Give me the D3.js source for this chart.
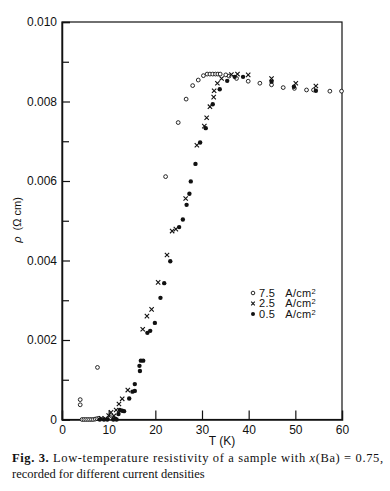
<!DOCTYPE html>
<html>
<head>
<meta charset="utf-8">
<script src="https://cdn.jsdelivr.net/npm/d3@7"></script>
<style>
  body { margin: 0; background: #fff; }
  svg { display: block; }
</style>
</head>
<body>
<div id="chart"></div>
<script>
// values
const T_75 = [3.9, 3.9, 4.3, 4.7, 5.1, 5.5, 5.9, 6.3, 6.7, 7.1, 7.5, 7.9, 7.6, 10.4,
              22.2, 24.9, 26.6, 28.0, 29.2, 30.3, 31.1, 31.7, 32.3, 32.9, 33.4, 33.9,
              35.1, 35.8, 37.4, 39.9, 42.4, 44.9, 47.4, 49.8, 52.4, 53.9, 57.4, 59.9];
const RHO_75 = [0.00037, 0.00050, 0, 0, 0, 0, 0, 0, 0, 0.00001, 0.00002, 0.00003, 0.00131, 0.00005,
                0.00611, 0.00747, 0.00806, 0.00840, 0.00854, 0.00865, 0.00869, 0.00869, 0.00869, 0.00869, 0.00869, 0.00869,
                0.00867, 0.00864, 0.00858, 0.00851, 0.00846, 0.00842, 0.00835, 0.00833, 0.00829, 0.00829, 0.00826, 0.00826];

const T_25 = [8.4, 9.3, 10.0, 10.5, 11.1, 11.6, 12.2, 12.9, 14.1, 17.3, 18.2, 19.2, 20.6, 22.5,
              23.6, 24.4, 26.5, 28.9, 30.5, 31.0, 31.7, 32.5, 32.6, 33.3, 34.2, 36.3,
              37.6, 39.9, 44.9, 50.1, 54.4];
const RHO_25 = [0.00003, 0.00002, 0.00010, 0.00018, 0.00009, 0.00024, 0.00039, 0.00052, 0.00074, 0.00227, 0.00260, 0.00277, 0.00345, 0.00414,
                0.00474, 0.00479, 0.00556, 0.00690, 0.00738, 0.00759, 0.00787, 0.00811, 0.00827, 0.00846, 0.00858, 0.00868,
                0.00869, 0.00867, 0.00858, 0.00846, 0.00839];

const T_05 = [8.1, 9.0, 9.7, 11.0, 11.4, 11.7, 12.1, 12.4, 12.9, 13.3, 14.4, 15.1, 15.6, 15.6,
              16.6, 16.7, 16.9, 17.4, 18.3, 18.9, 19.9, 21.1, 21.9, 23.2, 25.1, 25.9,
              26.7, 27.3, 27.6, 28.6, 29.6, 30.8, 32.3, 33.8, 35.4, 37.0, 38.8, 44.9, 49.7, 54.4];
const RHO_05 = [0, 0, 0, 0, 0.00002, 0, 0.00014, 0.00024, 0.00022, 0.00021, 0.00053, 0.00070, 0.00072, 0.00089,
                0.00135, 0.00122, 0.00148, 0.00148, 0.00218, 0.00223, 0.00243, 0.00306, 0.00343, 0.00398, 0.00484, 0.00503,
                0.00540, 0.00568, 0.00599, 0.00643, 0.00697, 0.00733, 0.00793, 0.00831, 0.00852, 0.00862, 0.00862, 0.00850, 0.00837, 0.00827];

const X_TICKS = [0, 10, 20, 30, 40, 50, 60];
const Y_TICKS = [0, 0.002, 0.004, 0.006, 0.008, 0.010];
const Y_MINOR = [0.001, 0.003, 0.005, 0.007, 0.009];
const LEGEND_LABELS = ["7.5", "2.5", "0.5"];

const FRAME_WIDTH = 390;
const FRAME_HEIGHT = 491;
const MARGINS = {left: 62, right: 48, top: 22, bottom: 71.5};
const VIS_WIDTH = FRAME_WIDTH - MARGINS.left - MARGINS.right;
const VIS_HEIGHT = FRAME_HEIGHT - MARGINS.top - MARGINS.bottom;

const SANS = "'Liberation Sans', Arial, Helvetica, sans-serif";
const SERIF = "'Liberation Serif', 'Times New Roman', serif";

const FRAME = d3.select("#chart")
                .append("svg")
                  .attr("width", FRAME_WIDTH)
                  .attr("height", FRAME_HEIGHT);

const X_SCALE = d3.scaleLinear().domain([0, 60]).range([0, VIS_WIDTH]);
const Y_SCALE = d3.scaleLinear().domain([0, 0.010]).range([VIS_HEIGHT, 0]);

const PLOT = FRAME.append("g")
                  .attr("transform", "translate(" + MARGINS.left + "," + MARGINS.top + ")");

// box around the plot
PLOT.append("rect")
    .attr("width", VIS_WIDTH)
    .attr("height", VIS_HEIGHT)
    .attr("fill", "none")
    .attr("stroke", "#111")
    .attr("stroke-width", 1.2);

// axes, ticks pointing inward
const xAxis = PLOT.append("g")
    .attr("transform", "translate(0," + VIS_HEIGHT + ")")
    .call(d3.axisBottom(X_SCALE).tickValues(X_TICKS).tickSize(-9).tickPadding(6)
            .tickFormat(d3.format("d")));

const yAxis = PLOT.append("g")
    .call(d3.axisLeft(Y_SCALE).tickValues(Y_TICKS).tickSize(-8).tickPadding(5)
            .tickFormat(d => d === 0 ? "0" : d3.format(".3f")(d)));

PLOT.append("g")
    .call(d3.axisLeft(Y_SCALE).tickValues(Y_MINOR).tickSize(-7).tickFormat(""))
    .select(".domain").remove();

[xAxis, yAxis].forEach(ax => {
  ax.selectAll("text")
    .attr("font-family", SANS)
    .attr("font-size", "12px")
    .attr("fill", "#111");
  ax.select(".domain").attr("stroke-width", 1.5).attr("stroke", "#111");
});
PLOT.selectAll(".tick line").attr("stroke", "#111").attr("stroke-width", 1.2);
xAxis.selectAll(".tick").filter(d => d === 0 || d === 60).select("line").remove();

// axis titles
FRAME.append("text")
    .attr("x", 222)
    .attr("y", 445)
    .attr("text-anchor", "middle")
    .attr("font-family", SANS)
    .attr("font-size", "12px")
    .attr("fill", "#111")
    .text("T\u00a0(K)");

const yTitle = FRAME.append("text")
    .attr("transform", "translate(21,220) rotate(-90)")
    .attr("text-anchor", "middle")
    .attr("font-family", SANS)
    .attr("font-size", "11px")
    .attr("fill", "#111");
yTitle.append("tspan").attr("font-style", "italic").text("ρ");
yTitle.append("tspan").text("\u00a0\u00a0(Ω\u00a0cm)");

// markers
function openCircles(g, ts, rs) {
  g.selectAll("circle.open")
    .data(d3.zip(ts, rs))
    .enter()
    .append("circle")
      .attr("class", "open")
      .attr("cx", d => X_SCALE(d[0]))
      .attr("cy", d => Y_SCALE(d[1]))
      .attr("r", 1.9)
      .attr("fill", "#fff")
      .attr("stroke", "#111")
      .attr("stroke-width", 0.9);
}

function crosses(g, ts, rs) {
  g.selectAll("path.cross")
    .data(d3.zip(ts, rs))
    .enter()
    .append("path")
      .attr("class", "cross")
      .attr("d", d3.symbol(d3.symbolX).size(14))
      .attr("transform", d => "translate(" + X_SCALE(d[0]) + "," + Y_SCALE(d[1]) + ")")
      .attr("fill", "none")
      .attr("stroke", "#111")
      .attr("stroke-width", 1.1);
}

function dots(g, ts, rs) {
  g.selectAll("circle.dot")
    .data(d3.zip(ts, rs))
    .enter()
    .append("circle")
      .attr("class", "dot")
      .attr("cx", d => X_SCALE(d[0]))
      .attr("cy", d => Y_SCALE(d[1]))
      .attr("r", 2.2)
      .attr("fill", "#111");
}

openCircles(PLOT.append("g"), T_75, RHO_75);
crosses(PLOT.append("g"), T_25, RHO_25);
dots(PLOT.append("g"), T_05, RHO_05);

// legend
const LEGEND = FRAME.append("g").attr("transform", "translate(253,293)");
LEGEND_LABELS.forEach((lab, i) => {
  const row = LEGEND.append("g").attr("transform", "translate(0," + (i * 10.5) + ")");
  if (i === 0) {
    row.append("circle").attr("r", 1.8).attr("fill", "#fff")
       .attr("stroke", "#111").attr("stroke-width", 0.9);
  } else if (i === 1) {
    row.append("path").attr("d", d3.symbol(d3.symbolX).size(10))
       .attr("fill", "none").attr("stroke", "#111").attr("stroke-width", 1.1);
  } else {
    row.append("circle").attr("r", 2).attr("fill", "#111");
  }
  const t = row.append("text")
     .attr("x", 6)
     .attr("y", 3.8)
     .attr("font-family", SANS)
     .attr("font-size", "11px")
     .attr("letter-spacing", "0.3px")
     .attr("fill", "#111");
  t.append("tspan").text(lab + "\u00a0\u00a0\u00a0A/cm");
  t.append("tspan").attr("dy", -3).attr("font-size", "7.5px").text("2");
});

// caption
const cap1 = FRAME.append("text")
    .attr("x", 12)
    .attr("y", 462)
    .attr("font-family", SERIF)
    .attr("font-size", "12.5px")
    .attr("fill", "#111")
    .attr("textLength", 371)
    .attr("lengthAdjust", "spacing");
cap1.append("tspan").attr("font-weight", "bold").text("Fig. 3.");
cap1.append("tspan").text(" Low-temperature resistivity of a sample with ");
cap1.append("tspan").attr("font-style", "italic").text("x");
cap1.append("tspan").text("(Ba)\u00a0=\u00a00.75,");

FRAME.append("text")
    .attr("x", 12)
    .attr("y", 478)
    .attr("font-family", SERIF)
    .attr("font-size", "12.5px")
    .attr("fill", "#111")
    .text("recorded for different current densities");
</script>
</body>
</html>
